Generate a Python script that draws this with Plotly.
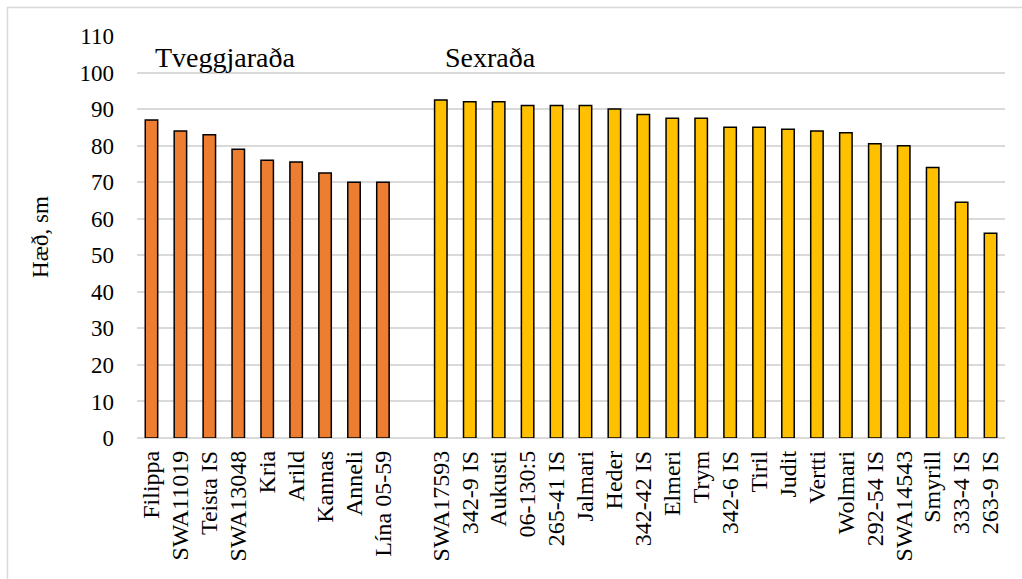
import plotly.graph_objects as go

two_row_names = ["Filippa", "SWA11019", "Teista IS", "SWA13048", "Kria", "Arild",
                 "Kannas", "Anneli", "Lína 05-59"]
two_row_values = [87, 84, 83, 79, 76, 75.5, 72.5, 70, 70]

six_row_names = ["SWA17593", "342-9 IS", "Aukusti", "06-130:5", "265-41 IS", "Jalmari",
                 "Heder", "342-42 IS", "Elmeri", "Trym", "342-6 IS", "Tiril", "Judit",
                 "Vertti", "Wolmari", "292-54 IS", "SWA14543", "Smyrill", "333-4 IS",
                 "263-9 IS"]
six_row_values = [92.5, 92, 92, 91, 91, 91, 90, 88.5, 87.5, 87.5, 85, 85, 84.5,
                  84, 83.5, 80.5, 80, 74, 64.5, 56]

y_ticks = [0, 10, 20, 30, 40, 50, 60, 70, 80, 90, 100, 110]

gap = [" "]
categories = two_row_names + gap + six_row_names

FONT = "Liberation Serif, Times New Roman, serif"

fig = go.Figure()
fig.add_trace(go.Bar(x=two_row_names, y=two_row_values,
                     marker=dict(color="#ED7D31", line=dict(color="black", width=1.5)),
                     showlegend=False))
fig.add_trace(go.Bar(x=six_row_names, y=six_row_values,
                     marker=dict(color="#FFC000", line=dict(color="black", width=1.5)),
                     showlegend=False))

W, H = 1022, 579
L, R, T, B = 137, 17, 36, 141
pw, ph = W - L - R, H - T - B

def px_x(p):
    return (p - L) / pw

def px_y(p):
    return (H - B - p) / ph

fig.update_layout(
    width=W, height=H,
    margin=dict(l=L, r=R, t=T, b=B),
    plot_bgcolor="white", paper_bgcolor="white",
    barmode="group", bargap=0.57,
    font=dict(family=FONT, color="black"),
    xaxis=dict(type="category", categoryorder="array", categoryarray=categories,
               range=[-0.5, len(categories) - 0.5],
               tickmode="array", tickvals=categories, ticktext=categories,
               tickangle=-90, tickfont=dict(size=24, family=FONT),
               ticklabelstandoff=7,
               showgrid=False, showline=False, ticks="", zeroline=False),
    yaxis=dict(range=[0, 110], tickvals=y_ticks, tickfont=dict(size=23, family=FONT),
               ticklabelstandoff=22,
               showgrid=True, gridcolor="#D9D9D9", gridwidth=1.5,
               zeroline=True, zerolinecolor="#D9D9D9", zerolinewidth=1.5,
               showline=False, ticks="", ticklen=0,
               title=dict(text="Hæð, sm", font=dict(size=23, family=FONT), standoff=24)),
    annotations=[
        dict(text="Tveggjaraða", x=px_x(153), y=px_y(58), xref="paper", yref="paper",
             xanchor="left", yanchor="middle", showarrow=False,
             font=dict(size=28, family=FONT)),
        dict(text="Sexraða", x=px_x(443), y=px_y(58), xref="paper", yref="paper",
             xanchor="left", yanchor="middle", showarrow=False,
             font=dict(size=28, family=FONT)),
    ],
    shapes=[
        dict(type="rect", xref="paper", yref="paper",
             x0=px_x(7.5), x1=px_x(1040), y0=px_y(620), y1=px_y(7.5),
             line=dict(color="#D9D9D9", width=1.5), fillcolor="rgba(0,0,0,0)",
             layer="below"),
    ],
)

fig.write_html("out.html")
